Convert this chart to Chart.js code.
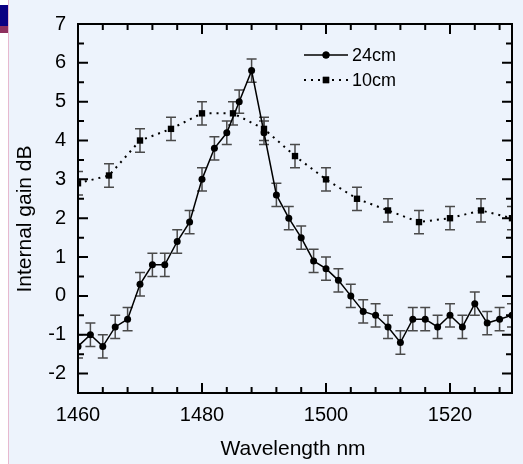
<!DOCTYPE html>
<html>
<head>
<meta charset="utf-8">
<title>Internal gain vs wavelength</title>
<script src="https://cdn.jsdelivr.net/npm/chart.js@4.4.0/dist/chart.umd.min.js"></script>
<style>
  html, body { margin: 0; padding: 0; background: #edf3fc; }
  #wrap { position: relative; width: 523px; height: 464px; overflow: hidden; }
  /* the white page strip on the left edge */
  #strip { position: absolute; left: 0; top: 0; width: 8px; height: 464px; background: #fff; border-right: 1px solid #e7b9cf; }
  #tabBlue { position: absolute; left: 0; top: 5px; width: 8px; height: 21px; background: #0b0082; }
  #tabRed { position: absolute; left: 0; top: 26px; width: 8px; height: 7px; background: #8e2f5e; }
  canvas { position: absolute; left: 0; top: 0; }
</style>
</head>
<body>
<div id="wrap">
  <div id="strip"></div>
  <div id="tabBlue"></div>
  <div id="tabRed"></div>
  <canvas id="gainChart" width="523" height="464"></canvas>
</div>
<script>
// Values
const wavelength24 = [1460, 1462, 1464, 1466, 1468, 1470, 1472, 1474, 1476, 1478,
                      1480, 1482, 1484, 1486, 1488, 1490, 1492, 1494, 1496, 1498,
                      1500, 1502, 1504, 1506, 1508, 1510, 1512, 1514, 1516, 1518,
                      1520, 1522, 1524, 1526, 1528, 1530];
const gain24 = [-1.3, -1.0, -1.3, -0.8, -0.6, 0.3, 0.8, 0.8, 1.4, 1.9,
                3.0, 3.8, 4.2, 5.0, 5.8, 4.2, 2.6, 2.0, 1.5, 0.9,
                0.7, 0.4, 0.0, -0.4, -0.5, -0.8, -1.2, -0.6, -0.6, -0.8,
                -0.5, -0.8, -0.2, -0.7, -0.6, -0.5];

const wavelength10 = [1460, 1465, 1470, 1475, 1480, 1485, 1490, 1495, 1500, 1505,
                      1510, 1515, 1520, 1525, 1530];
const gain10 = [2.9, 3.1, 4.0, 4.3, 4.7, 4.7, 4.3, 3.6, 3.0, 2.5,
                2.2, 1.9, 2.0, 2.2, 2.0];

const gainError = 0.3; // +/- error bar, same size on every point

const seriesLabels = ['24cm', '10cm'];

// Axes
const xRange = [1460, 1530];
const xTicks = [1460, 1480, 1500, 1520];
const xMinorStep = 4;
const yRange = [-2.5, 7];
const yTicks = [-2, -1, 0, 1, 2, 3, 4, 5, 6, 7];
const yMinorStep = 0.5;
const xTitle = 'Wavelength nm';
const yTitle = 'Internal gain dB';

const FONT = "'Liberation Sans', Arial, sans-serif";

function toPoints(xs, ys) {
  return xs.map((x, i) => ({ x: x, y: ys[i] }));
}

// Draws error bars, the boxed frame with inward ticks, the legend and axis titles
const framePlugin = {
  id: 'frame',
  beforeDatasetsDraw(chart) {
    const ctx = chart.ctx;
    const area = chart.chartArea;
    const yScale = chart.scales.y;
    ctx.save();
    ctx.beginPath();
    ctx.rect(area.left, area.top, area.right - area.left, area.bottom - area.top);
    ctx.clip();
    ctx.strokeStyle = '#4a4a4a';
    ctx.lineWidth = 1.5;
    chart.data.datasets.forEach((ds, di) => {
      const meta = chart.getDatasetMeta(di);
      meta.data.forEach((pt, i) => {
        const v = ds.data[i].y;
        const yTop = yScale.getPixelForValue(v + gainError);
        const yBot = yScale.getPixelForValue(v - gainError);
        ctx.beginPath();
        ctx.moveTo(pt.x, yTop);
        ctx.lineTo(pt.x, yBot);
        ctx.moveTo(pt.x - 5, yTop);
        ctx.lineTo(pt.x + 5, yTop);
        ctx.moveTo(pt.x - 5, yBot);
        ctx.lineTo(pt.x + 5, yBot);
        ctx.stroke();
      });
    });
    ctx.restore();
  },
  afterDatasetsDraw(chart) {
    const ctx = chart.ctx;
    const area = chart.chartArea;
    const xScale = chart.scales.x;
    const yScale = chart.scales.y;
    ctx.save();
    ctx.strokeStyle = '#000';
    ctx.lineWidth = 2;
    ctx.strokeRect(area.left, area.top, area.right - area.left, area.bottom - area.top);

    // inward ticks on all four sides
    ctx.beginPath();
    for (let v = xRange[0]; v <= xRange[1]; v += xMinorStep) {
      const px = xScale.getPixelForValue(v);
      const len = xTicks.includes(v) ? 10 : 6;
      ctx.moveTo(px, area.bottom);
      ctx.lineTo(px, area.bottom - len);
      ctx.moveTo(px, area.top);
      ctx.lineTo(px, area.top + len);
    }
    for (let v = yRange[0]; v <= yRange[1]; v += yMinorStep) {
      const py = yScale.getPixelForValue(v);
      const len = yTicks.includes(v) ? 10 : 6;
      ctx.moveTo(area.left, py);
      ctx.lineTo(area.left + len, py);
      ctx.moveTo(area.right, py);
      ctx.lineTo(area.right - len, py);
    }
    ctx.stroke();

    // legend
    const ds = chart.data.datasets;
    const rows = [55, 80];
    ds.forEach((d, i) => {
      const y = rows[i];
      ctx.save();
      ctx.strokeStyle = d.borderColor;
      ctx.lineWidth = d.borderWidth;
      ctx.setLineDash(d.borderDash || []);
      ctx.beginPath();
      ctx.moveTo(304, y);
      ctx.lineTo(348, y);
      ctx.stroke();
      ctx.restore();
      Chart.helpers.drawPoint(ctx, {
        pointStyle: d.pointStyle,
        radius: d.pointRadius,
        borderWidth: 0,
        rotation: 0
      }, 326, y);
      ctx.fillStyle = '#000';
      ctx.fill();
      ctx.font = '18px ' + FONT;
      ctx.textBaseline = 'middle';
      ctx.textAlign = 'left';
      ctx.fillText(seriesLabels[i], 352, y + 1);
    });

    // axis titles
    ctx.fillStyle = '#000';
    ctx.font = '21px ' + FONT;
    ctx.textAlign = 'center';
    ctx.textBaseline = 'alphabetic';
    ctx.fillText(xTitle, 293, 455);
    ctx.translate(31, 219);
    ctx.rotate(-Math.PI / 2);
    ctx.fillText(yTitle, 0, 0);
    ctx.restore();
  }
};

const ctx = document.getElementById('gainChart').getContext('2d');
const gainChart = new Chart(ctx, {
  type: 'line',
  data: {
    datasets: [{
      label: seriesLabels[0],
      data: toPoints(wavelength24, gain24),
      borderColor: '#000',
      backgroundColor: '#000',
      borderWidth: 1.5,
      pointStyle: 'circle',
      pointRadius: 3.5,
      pointBorderWidth: 0,
      tension: 0
    }, {
      label: seriesLabels[1],
      data: toPoints(wavelength10, gain10),
      borderColor: '#000',
      backgroundColor: '#000',
      borderWidth: 2,
      borderDash: [2, 5],
      pointStyle: 'rect',
      pointRadius: 4.5,
      pointBorderWidth: 0,
      tension: 0
    }]
  },
  options: {
    responsive: false,
    animation: false,
    devicePixelRatio: 1,
    layout: { padding: { left: 0, top: 17, right: 11, bottom: 0 } },
    plugins: {
      legend: { display: false },
      tooltip: { enabled: false }
    },
    scales: {
      x: {
        type: 'linear',
        min: xRange[0],
        max: xRange[1],
        grid: { display: false, drawTicks: false },
        border: { display: false },
        afterBuildTicks: scale => { scale.ticks = xTicks.map(v => ({ value: v })); },
        afterFit: scale => { scale.height = 71; },
        ticks: {
          padding: 10,
          color: '#000',
          font: { family: FONT, size: 20 },
          maxRotation: 0,
          callback: v => String(v)
        }
      },
      y: {
        type: 'linear',
        min: yRange[0],
        max: yRange[1],
        grid: { display: false, drawTicks: false },
        border: { display: false },
        afterBuildTicks: scale => { scale.ticks = yTicks.map(v => ({ value: v })); },
        afterFit: scale => { scale.width = 78; },
        ticks: {
          padding: 12,
          color: '#000',
          font: { family: FONT, size: 20 },
          callback: v => String(v)
        }
      }
    }
  },
  plugins: [framePlugin]
});
</script>
</body>
</html>
